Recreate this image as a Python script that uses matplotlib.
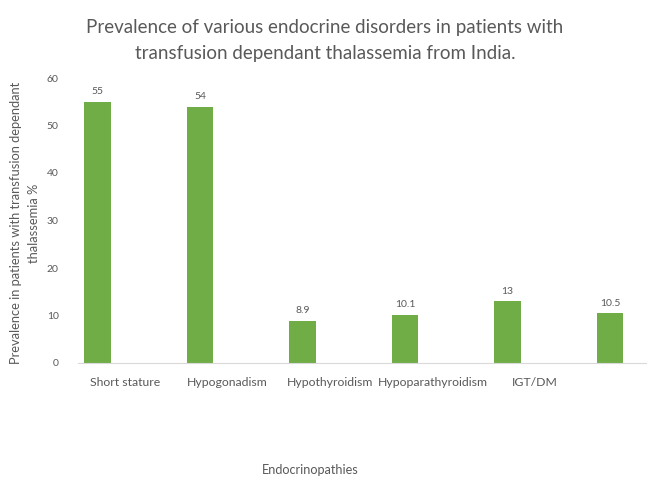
import matplotlib
matplotlib.use("Agg")
import matplotlib.pyplot as plt
import numpy as np

# prevalence (%) of each endocrinopathy
categories = ["Short stature", "Hypogonadism", "Hypothyroidism", "Hypoparathyroidism", "IGT/DM", ""]
prevalence = [55, 54, 8.9, 10.1, 13, 10.5]
value_labels = ["55", "54", "8.9", "10.1", "13", "10.5"]
y_ticks = [0, 10, 20, 30, 40, 50, 60]

GREEN = "#70AD47"
GREY = "#595959"

plt.rcParams['font.family'] = ['Lato', 'DejaVu Sans']

fig = plt.figure(figsize=(6.47, 4.79), dpi=100)
ax = fig.add_axes([78 / 647, 1 - 363 / 479, (647 - 78) / 647, (363 - 78) / 479])

x = np.arange(len(categories))
bar_offset = -0.27
bars = ax.bar(x + bar_offset, prevalence, width=0.26, color=GREEN)

for b, lab in zip(bars, value_labels):
    ax.annotate(lab, (b.get_x() + b.get_width() / 2, b.get_height()),
                xytext=(0, 4), textcoords="offset points",
                ha="center", va="bottom", fontsize=7.5, color=GREY)

ax.set_xlim(-0.46, 5.09)
ax.set_ylim(0, 60)
ax.set_yticks(y_ticks)
ax.set_xticks(x)
ax.set_xticklabels(categories)
ax.tick_params(axis="both", length=0, colors=GREY)
ax.tick_params(axis="y", pad=14, labelsize=7.5)
ax.tick_params(axis="x", pad=10, labelsize=8.8)

for side in ["left", "right", "top"]:
    ax.spines[side].set_visible(False)
ax.spines["bottom"].set_color("#D9D9D9")

fig.text(0.502, 1 - 27 / 479, "Prevalence of various endocrine disorders in patients with",
         ha="center", va="center", fontsize=13.5, color=GREY)
fig.text(0.502, 1 - 53 / 479, "transfusion dependant thalassemia from India.",
         ha="center", va="center", fontsize=13.5, color=GREY)

fig.text(25 / 647, 1 - 223 / 479,
         "Prevalence in patients with transfusion dependant\nthalassemia %",
         rotation=90, ha="center", va="center", fontsize=9.3, color=GREY,
         multialignment="center", linespacing=1.5)

fig.text(310 / 647, 1 - 470 / 479, "Endocrinopathies",
         ha="center", va="center", fontsize=9.1, color=GREY)

fig.savefig("out.png", dpi=100)
